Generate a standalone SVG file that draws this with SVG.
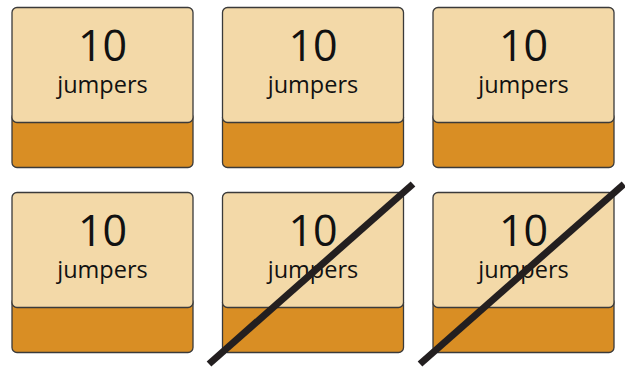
<svg xmlns="http://www.w3.org/2000/svg" width="625" height="367" viewBox="0 0 625 367">
<style>
.bot{fill:#D98E24;stroke:#3a3a3a;stroke-width:1.3}
.top{fill:#F3D9A8;stroke:#3a3a3a;stroke-width:1.3}
.n{font-family:"Open Sans","Liberation Sans",sans-serif;font-size:43px;fill:#111;text-anchor:middle}
.l{font-family:"Open Sans","Liberation Sans",sans-serif;font-size:23.5px;fill:#111;text-anchor:middle}
.x{stroke:#231f20;stroke-width:7;stroke-linecap:butt}
</style>
<defs>
<g id="card">
<rect class="bot" x="0" y="105" width="181" height="55" rx="5"/>
<rect class="top" x="0" y="0" width="181" height="115" rx="5"/>
<text class="n" x="90.5" y="53.5">10</text>
<text class="l" x="90.5" y="85">jumpers</text>
</g>
</defs>
<g id="card1"><use href="#card" x="12" y="7.5"/></g>
<g id="card2"><use href="#card" x="222.5" y="7.5"/></g>
<g id="card3"><use href="#card" x="433" y="7.5"/></g>
<g id="card4"><use href="#card" x="12" y="192.5"/></g>
<g id="card5"><use href="#card" x="222.5" y="192.5"/></g>
<g id="card6"><use href="#card" x="433" y="192.5"/></g>
<g id="connectors">
<line class="x" x1="209" y1="364" x2="413" y2="184"/>
<line class="x" x1="420" y1="364" x2="624" y2="184"/>
</g>
</svg>
